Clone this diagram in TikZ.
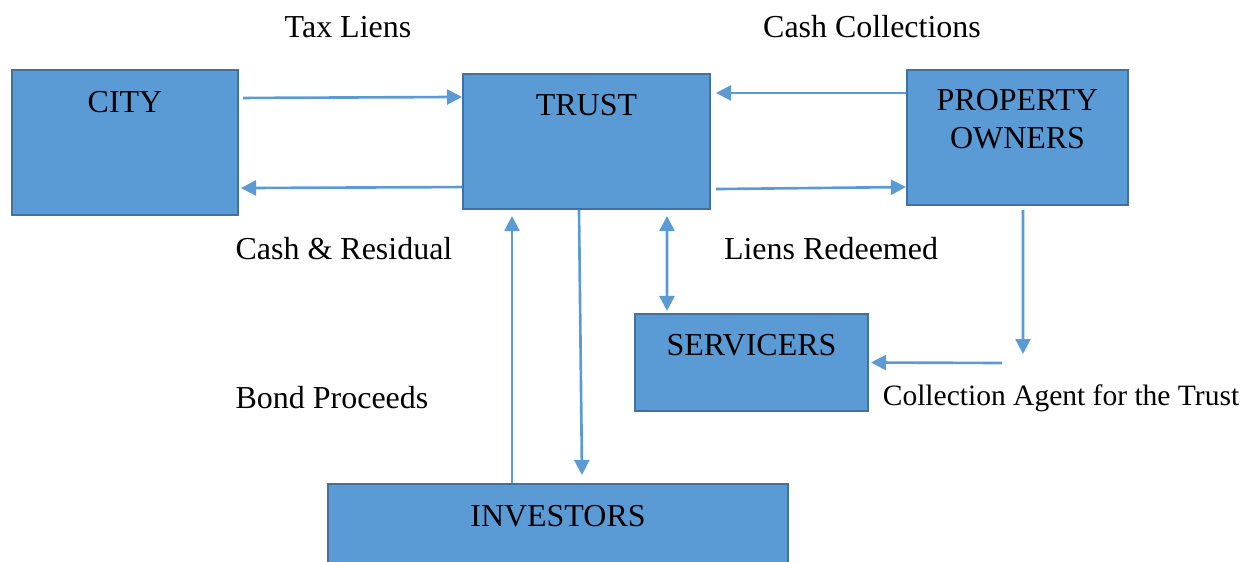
\documentclass[tikz,border=0pt]{standalone}
\usepackage{fontspec}
\setmainfont{Liberation Serif}
\usetikzlibrary{arrows.meta}
\definecolor{boxblue}{HTML}{5B9BD5}
\definecolor{boxedge}{HTML}{41719C}
\begin{document}
\begin{tikzpicture}[x=0.02cm, y=-0.02cm,
    box/.style={draw=boxedge, fill=boxblue, line width=1.2pt, inner sep=0pt},
    word/.style={font=\fontsize{18.2}{22}\selectfont, inner sep=0pt, align=center},
    small word/.style={word, font=\fontsize{16.8}{20}\selectfont},
    flow/.style={draw=boxblue, line width=1.5pt, -{Triangle[length=0.3cm, width=0.3cm]}},
    both/.style={flow, {Triangle[length=0.3cm, width=0.3cm]}-{Triangle[length=0.3cm, width=0.3cm]}}]

    \useasboundingbox (0,0) rectangle (1250,561);
    \clip (0,0) rectangle (1250,561);

    % Nodes
    \node[box, minimum width=4.52cm, minimum height=2.9cm] (city) at (125,142.5) {};
    \node[box, minimum width=4.94cm, minimum height=2.7cm] (trust) at (586.5,141.5) {};
    \node[box, minimum width=4.42cm, minimum height=2.7cm] (owners) at (1017.5,137.5) {};
    \node[box, minimum width=4.66cm, minimum height=1.94cm] (servicers) at (751.5,362.5) {};
    \node[box, minimum width=9.2cm, minimum height=2.32cm] (investors) at (558,542) {};

    \node[word] at (125,102) {CITY};
    \node[word] at (586.5,105) {TRUST};
    \node[word] at (1017.5,119) {PROPERTY\\OWNERS};
    \node[word] at (751.5,345) {SERVICERS};
    \node[word] at (558,516) {INVESTORS};

    \coordinate (drop) at (1023,354);
    \coordinate (agent) at (1002,363);

    % Edges
    \draw[flow] ([shift={(4,29)}]city.north east) -- ([shift={(0,24)}]trust.north west);
    \draw[flow] ([shift={(0,-23)}]trust.south west) -- ([shift={(2,-28)}]city.south east);
    \draw[flow] ([shift={(0,24)}]owners.north west) -- ([shift={(5,20)}]trust.north east);
    \draw[flow] ([shift={(5,-21)}]trust.south east) -- ([shift={(0,-19)}]owners.south west);
    \draw[both] ([shift={(80.5,6)}]trust.south) -- ([shift={(-84.5,-2)}]servicers.north);
    \draw[flow] ([shift={(5.5,4)}]owners.south) -- (drop);
    \draw[flow] (agent) -- ([shift={(2,0)}]servicers.east);
    \draw[flow] ([shift={(-7.5,0)}]trust.south) -- ([shift={(24,-8)}]investors.north);
    \draw[flow] ([shift={(-46,0)}]investors.north) -- ([shift={(-74.5,6)}]trust.south);

    % Labels
    \node[word] at (348,27) {Tax Liens};
    \node[word] at (872,27) {Cash Collections};
    \node[word] at (344,249) {Cash \& Residual};
    \node[word] at (831,249) {Liens Redeemed};
    \node[word] at (332,398) {Bond Proceeds};
    \node[small word] at (1061,398) {Collection Agent for the Trust};
\end{tikzpicture}
\end{document}
